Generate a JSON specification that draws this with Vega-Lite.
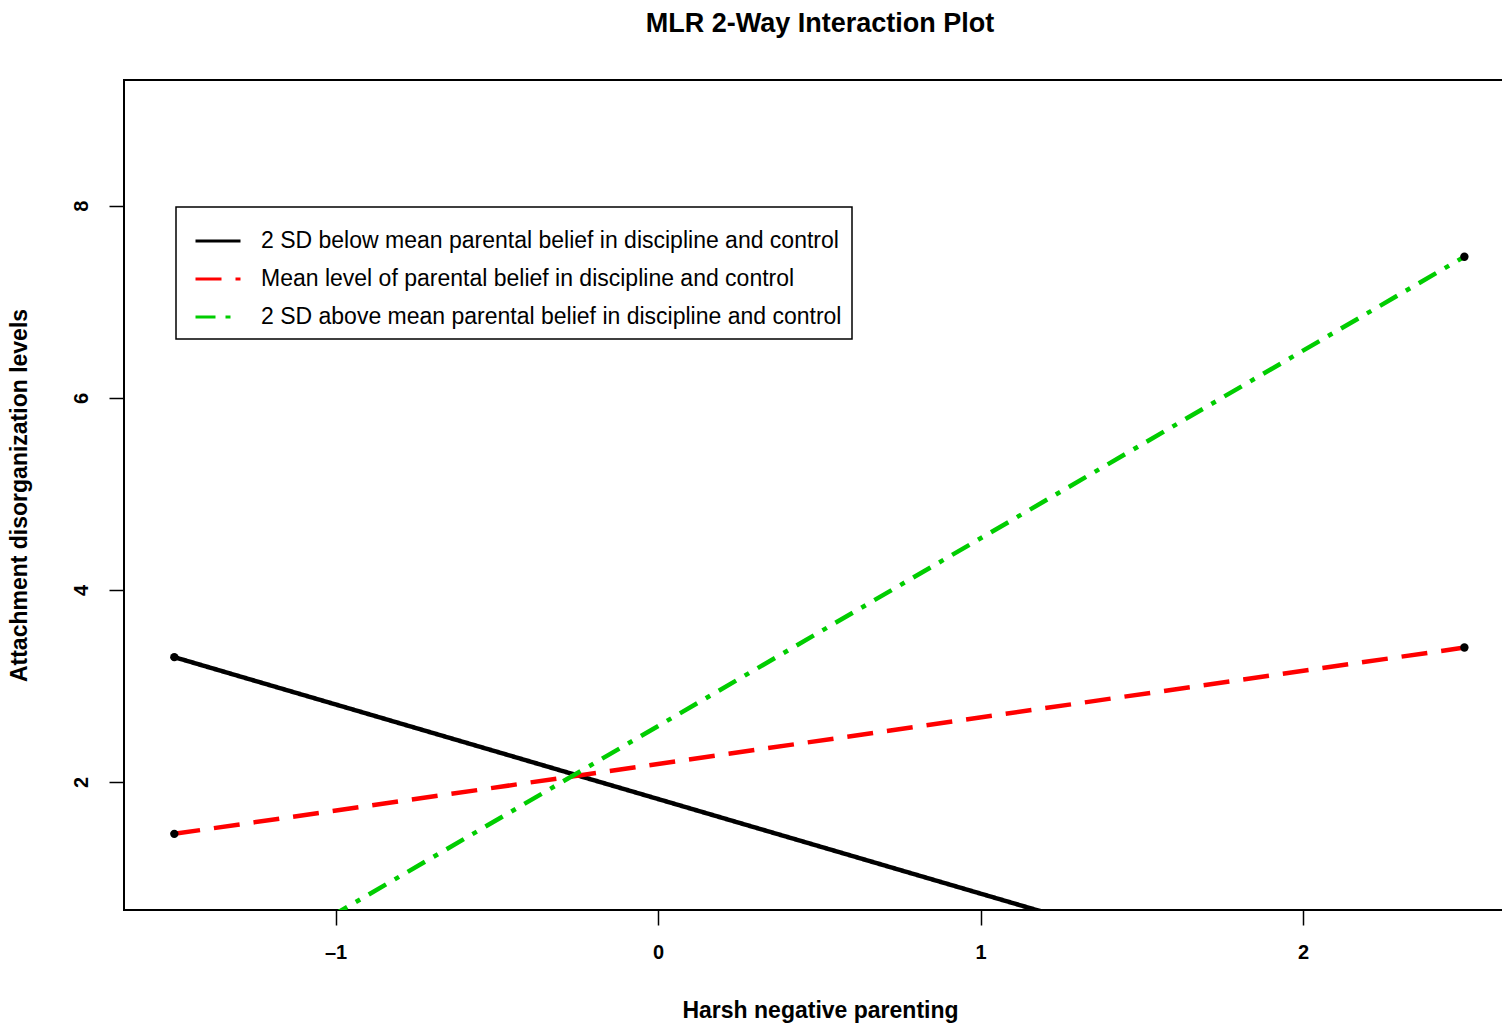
{
  "$schema": "https://vega.github.io/schema/vega-lite/v6.json",
  "autosize": "none",
  "padding": {"left": 124, "top": 80, "right": 0, "bottom": 114},
  "width": 1392,
  "height": 830,
  "background": "white",
  "title": {
    "text": "MLR 2-Way Interaction Plot",
    "font": "Liberation Sans",
    "fontSize": 27,
    "fontWeight": "bold",
    "color": "black",
    "anchor": "middle",
    "offset": 42
  },
  "config": {
    "view": {"stroke": "black", "strokeWidth": 2},
    "axis": {
      "domain": false,
      "grid": false,
      "tickColor": "black",
      "tickWidth": 1.5,
      "tickSize": 15,
      "labelFont": "Liberation Sans",
      "labelFontSize": 20,
      "labelFontWeight": "bold",
      "labelColor": "black",
      "titleFont": "Liberation Sans",
      "titleFontSize": 23,
      "titleFontWeight": "bold",
      "titleColor": "black"
    }
  },
  "data": {
    "values": [
      {"series": "2 SD below mean parental belief in discipline and control", "x": -1.5, "y": 3.30},
      {"series": "2 SD below mean parental belief in discipline and control", "x": 2.5, "y": -0.64},
      {"series": "Mean level of parental belief in discipline and control", "x": -1.5, "y": 1.46},
      {"series": "Mean level of parental belief in discipline and control", "x": 2.5, "y": 3.40},
      {"series": "2 SD above mean parental belief in discipline and control", "x": -1.5, "y": -0.35},
      {"series": "2 SD above mean parental belief in discipline and control", "x": 2.5, "y": 7.47}
    ]
  },
  "layer": [
    {
      "mark": {"type": "line", "clip": true, "strokeWidth": 4.5},
      "encoding": {
        "x": {
          "field": "x", "type": "quantitative",
          "scale": {"domain": [-1.656, 2.66], "nice": false, "zero": false},
          "axis": {"values": [-1, 0, 1, 2], "format": "d", "title": "Harsh negative parenting", "labelPadding": 17, "titlePadding": 37, "labelExpr": "datum.value < 0 ? '\u2013' + abs(datum.value) : datum.label"}
        },
        "y": {
          "field": "y", "type": "quantitative",
          "scale": {"domain": [0.667, 9.31], "nice": false, "zero": false},
          "axis": {"values": [2, 4, 6, 8], "format": "d", "title": "Attachment disorganization levels", "labelAngle": -90, "labelAlign": "center", "labelBaseline": "bottom", "labelPadding": 18, "titlePadding": 40}
        },
        "color": {
          "field": "series", "type": "nominal",
          "scale": {
            "domain": ["2 SD below mean parental belief in discipline and control", "Mean level of parental belief in discipline and control", "2 SD above mean parental belief in discipline and control"],
            "range": ["black", "#FF0000", "#00CD00"]
          },
          "legend": {
            "title": null,
            "orient": "none",
            "legendX": 52,
            "legendY": 127,
            "strokeColor": "black",
            "fillColor": "white",
            "padding": 10,
            "symbolType": "M-1,0L1,0",
            "symbolSize": 2025,
            "symbolStrokeWidth": 3,
            "symbolOffset": 8,
            "labelFont": "Liberation Sans",
            "labelFontSize": 23,
            "labelColor": "black",
            "labelOffset": 19,
            "labelLimit": 1000,
            "rowPadding": 2,
            "encode": {"legend": {"update": {"strokeWidth": {"value": 1.5}}}}
          }
        },
        "strokeDash": {
          "field": "series", "type": "nominal",
          "scale": {
            "domain": ["2 SD below mean parental belief in discipline and control", "Mean level of parental belief in discipline and control", "2 SD above mean parental belief in discipline and control"],
            "range": [[1, 0], [26, 14], [20, 10, 5, 10]]
          },
          "legend": null
        }
      }
    },
    {
      "mark": {"type": "point", "clip": true, "filled": true, "color": "black", "size": 70, "opacity": 1},
      "encoding": {
        "x": {"field": "x", "type": "quantitative"},
        "y": {"field": "y", "type": "quantitative"}
      }
    }
  ]
}
